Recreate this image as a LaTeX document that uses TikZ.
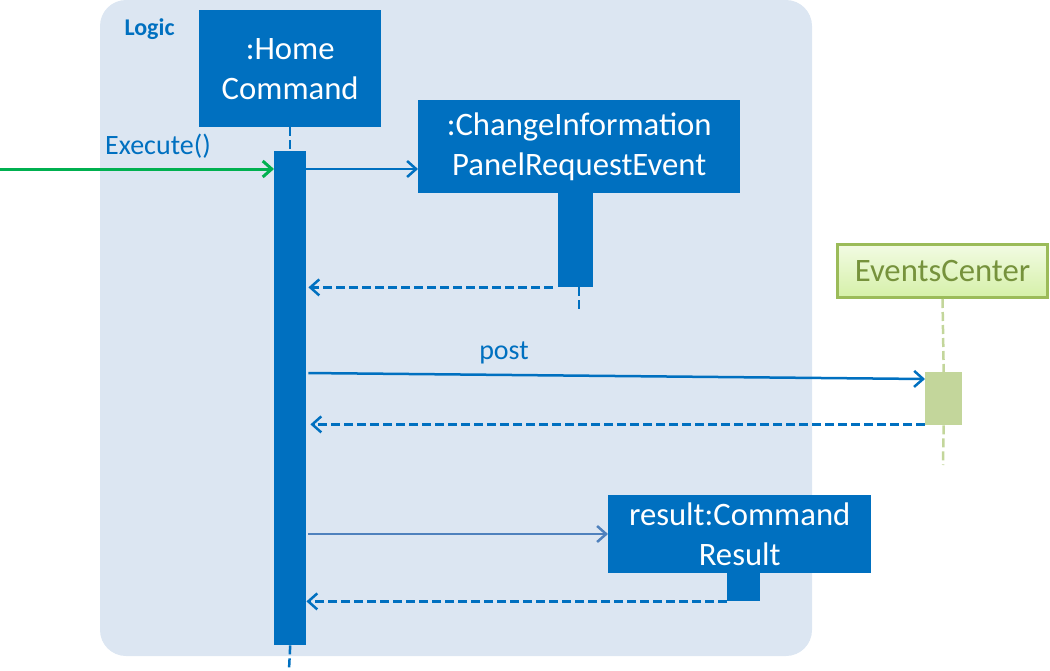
\documentclass[tikz,border=0pt]{standalone}
\usepackage{fontspec}
\setmainfont{Carlito}
\usetikzlibrary{arrows.meta}
\definecolor{logicblue}{HTML}{0070C0}
\definecolor{framefill}{HTML}{DCE6F2}
\definecolor{callgreen}{HTML}{00B050}
\definecolor{msgblue}{HTML}{4F81BD}
\definecolor{ecborder}{HTML}{9BBB59}
\definecolor{ectop}{HTML}{F2FBE3}
\definecolor{ecbottom}{HTML}{D5F0A8}
\definecolor{ectext}{HTML}{76923C}
\definecolor{ecbar}{HTML}{C3D69B}
\begin{document}
\begin{tikzpicture}[x=1pt,y=-1pt,
    obj/.style={fill=logicblue,text=white,align=center,inner sep=0pt,anchor=north west,
        font=\fontsize{32.7}{40}\selectfont},
    bar/.style={fill=logicblue,inner sep=0pt,anchor=north west},
    lifeline/.style={logicblue,line width=2.5pt,dash pattern=on 9pt off 4pt},
    call/.style={logicblue,line width=2.5pt,-{Straight Barb[length=9pt,width=16pt]}},
    ret/.style={call,dash pattern=on 9pt off 4pt},
    lbl/.style={text=logicblue,font=\fontsize{28}{32}\selectfont}]
    \useasboundingbox (0,0) rectangle (1050,670);
    % Logic frame
    \fill[framefill,rounded corners=26pt] (100,0) rectangle (812,656);
    \node[anchor=west,text=logicblue,font=\fontsize{24}{28}\selectfont\bfseries] (logiclbl) at (121,29) {Logic};
    % objects
    \node[obj,minimum width=182,minimum height=117] (homecmd) at (199,10) {:Home\\Command};
    \node[obj,minimum width=322,minimum height=93] (changeevt) at (418,100) {:ChangeInformation\\PanelRequestEvent};
    \node[anchor=north west,draw=ecborder,line width=3pt,top color=ectop,bottom color=ecbottom,
        text=ectext,inner sep=0pt,minimum width=210,minimum height=53,
        font=\fontsize{32.7}{40}\selectfont] (eventsctr) at (836,243) {EventsCenter};
    \node[obj,minimum width=263,minimum height=78] (cmdresult) at (608,495) {result:Command\\Result};
    % activation bars
    \node[bar,minimum width=32,minimum height=494] (homebar) at (274,151) {};
    \node[bar,minimum width=35,minimum height=94] (changebar) at (558,193) {};
    \node[anchor=north west,fill=ecbar,inner sep=0pt,minimum width=37,minimum height=53] (ecbarnode) at (925,372) {};
    \node[bar,minimum width=33,minimum height=28] (resbar) at (727,573) {};
    % lifelines
    \coordinate (homeend) at (289,670);
    \coordinate (changeend) at (579,310);
    \coordinate (ecend) at (943,465);
    \draw[lifeline] (homecmd.south) -- (homebar.north);
    \draw[lifeline] (homebar.south) -- (homeend);
    \draw[lifeline] (changebar.south -| changeend) -- (changeend);
    \draw[lifeline,ecbar] (eventsctr.south) -- (ecbarnode.north);
    \draw[lifeline,ecbar] (ecbarnode.south) -- (ecend);
    % messages
    \coordinate (extin) at (0,169);
    \draw[call,callgreen,line width=3pt] (extin) -- (extin -| homebar.west);
    \node[lbl] (execlbl) at (158,146) {Execute()};
    \draw[call] (extin -| homebar.east) -- (extin -| changeevt.west);
    \draw[ret,shorten <=5pt,shorten >=2pt] (changebar.south west) -- (changebar.south west -| homebar.east);
    \draw[call,shorten <=2pt] ([yshift=-1pt]homebar.east |- ecbarnode.north) -- ([yshift=-7pt]ecbarnode.north west);
    \node[lbl] (postlbl) at (504,353) {post};
    \draw[ret,shorten >=4pt] ([yshift=1pt]ecbarnode.south west) -- ([yshift=1pt]ecbarnode.south west -| homebar.east);
    \draw[call,msgblue,shorten <=2pt] (homebar.east |- 0,534) -- (cmdresult.west |- 0,534);
    \draw[ret] (resbar.south west) -- (resbar.south west -| homebar.east);
\end{tikzpicture}
\end{document}
